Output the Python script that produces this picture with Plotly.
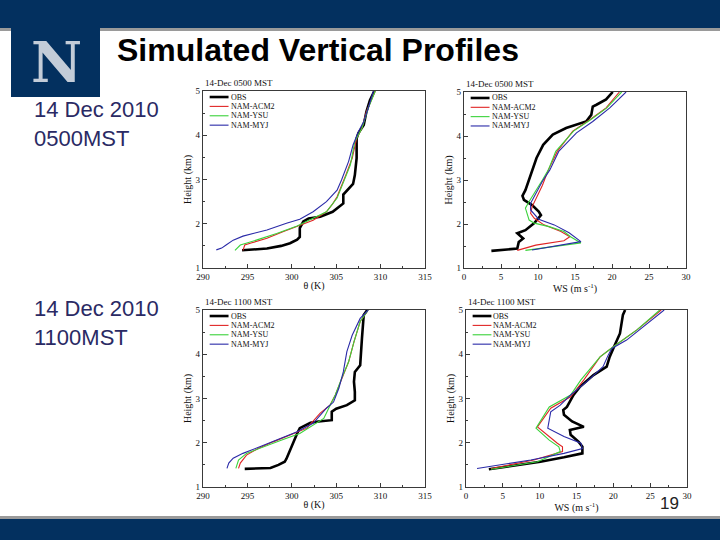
import plotly.graph_objects as go

# ---------------- data ----------------
series_names = ["OBS", "NAM-ACM2", "NAM-YSU", "NAM-MYJ"]
series_colors = ["#000000", "#e02424", "#3ad23a", "#2a2aa8"]
series_widths = [2.6, 1.1, 1.1, 1.1]

panel_titles = ["14-Dec 0500 MST", "14-Dec 0500 MST", "14-Dec 1100 MST", "14-Dec 1100 MST"]
left_labels = ["14 Dec 2010<br>0500MST", "14 Dec 2010<br>1100MST"]
theta_ticks = [290, 295, 300, 305, 310, 315]
ws_ticks = [0, 5, 10, 15, 20, 25, 30]
height_ticks = [1, 2, 3, 4, 5]

# Panel 1: potential temperature, 0500 MST
th05_obs_h = [1.40, 1.44, 1.50, 1.56, 1.64, 1.70, 1.90, 2.05, 2.12, 2.16, 2.27, 2.40, 2.46, 2.66, 2.74, 2.90, 3.10, 3.48, 3.93, 4.05, 4.23, 4.53, 4.79, 5.0]
th05_obs = [294.4, 297.2, 298.8, 299.8, 300.6, 300.9, 300.9, 301.3, 301.9, 303.2, 304.6, 305.5, 305.8, 305.8, 306.2, 306.9, 307.1, 307.3, 307.3, 307.5, 308.1, 308.4, 308.8, 309.3]
th05_acm2_h = [1.40, 1.52, 1.57, 1.67, 1.82, 1.97, 2.08, 2.27, 2.45, 2.61, 2.99, 3.11, 3.48, 3.93, 4.16, 4.53, 5.0]
th05_acm2 = [294.5, 294.7, 295.5, 297.2, 299.0, 300.9, 302.4, 303.9, 304.6, 305.1, 305.8, 306.1, 306.8, 307.3, 307.9, 308.4, 309.4]
th05_ysu_h = [1.40, 1.52, 1.63, 1.78, 1.95, 2.08, 2.27, 2.58, 2.84, 3.33, 3.86, 4.16, 4.61, 5.0]
th05_ysu = [293.6, 294.2, 296.0, 298.3, 300.6, 302.0, 303.9, 305.1, 305.6, 306.6, 307.1, 307.9, 308.6, 309.4]
th05_myj_h = [1.41, 1.45, 1.52, 1.63, 1.72, 1.86, 2.01, 2.10, 2.27, 2.50, 2.76, 2.99, 3.41, 3.78, 4.08, 4.31, 4.61, 5.0]
th05_myj = [291.5, 292.1, 292.6, 293.4, 294.5, 297.2, 299.4, 300.9, 302.4, 303.9, 305.1, 305.6, 306.4, 306.9, 307.5, 308.1, 308.6, 309.2]

# Panel 2: wind speed, 0500 MST
ws05_obs_h = [1.39, 1.44, 1.59, 1.67, 1.79, 1.86, 2.02, 2.20, 2.28, 2.43, 2.55, 2.64, 2.77, 3.00, 3.23, 3.50, 3.80, 4.03, 4.18, 4.33, 4.48, 4.67, 4.71, 4.83, 5.0]
ws05_obs = [3.7, 7.2, 7.4, 8.0, 7.2, 8.3, 9.5, 10.4, 10.1, 9.2, 8.1, 7.9, 8.3, 8.8, 9.2, 9.8, 10.7, 12.0, 13.8, 16.5, 17.2, 17.4, 17.9, 19.2, 20.1]
ws05_acm2_h = [1.40, 1.52, 1.62, 1.71, 1.83, 1.98, 2.13, 2.24, 2.39, 2.62, 2.88, 3.23, 3.65, 4.11, 4.37, 4.64, 5.0]
ws05_acm2 = [7.2, 9.7, 13.5, 14.3, 13.1, 10.8, 9.5, 9.0, 9.2, 9.9, 10.6, 11.4, 12.6, 14.7, 17.0, 19.2, 21.0]
ws05_ysu_h = [1.40, 1.47, 1.57, 1.71, 1.83, 1.94, 2.02, 2.09, 2.36, 2.51, 2.74, 3.00, 3.23, 3.65, 4.11, 4.37, 4.64, 5.0]
ws05_ysu = [8.3, 11.7, 15.8, 14.4, 13.5, 11.5, 9.5, 8.8, 8.3, 8.8, 9.7, 10.6, 11.4, 12.4, 14.8, 17.1, 19.3, 21.3]
ws05_myj_h = [1.41, 1.50, 1.60, 1.80, 1.98, 2.11, 2.32, 2.47, 2.70, 2.97, 3.23, 3.65, 4.07, 4.33, 4.64, 5.0]
ws05_myj = [9.2, 12.5, 15.8, 14.2, 12.2, 10.1, 9.0, 9.0, 9.7, 10.6, 11.6, 12.8, 15.2, 17.4, 19.7, 21.9]

# Panel 3: potential temperature, 1100 MST
th11_obs_h = [1.41, 1.43, 1.50, 1.57, 1.64, 1.84, 2.00, 2.21, 2.33, 2.45, 2.48, 2.51, 2.70, 2.77, 2.85, 2.92, 2.96, 3.15, 3.38, 3.60, 3.75, 4.36, 4.74, 4.89, 5.0]
th11_obs = [294.7, 297.6, 298.5, 299.2, 299.4, 299.8, 300.2, 300.6, 300.9, 302.1, 303.0, 304.5, 304.5, 305.0, 306.2, 306.7, 307.1, 307.1, 307.0, 307.1, 307.7, 307.9, 308.1, 308.1, 308.5]
th11_acm2_h = [1.42, 1.54, 1.72, 1.87, 2.02, 2.18, 2.33, 2.67, 2.85, 3.08, 3.45, 3.83, 4.28, 4.74, 5.0]
th11_acm2 = [294.0, 294.2, 294.9, 296.2, 297.9, 299.8, 301.7, 303.2, 304.3, 304.9, 305.6, 306.4, 307.0, 307.7, 308.6]
th11_ysu_h = [1.42, 1.61, 1.76, 1.91, 2.08, 2.21, 2.55, 2.92, 3.08, 3.45, 3.83, 4.28, 4.74, 5.0]
th11_ysu = [293.7, 294.0, 294.9, 296.8, 299.1, 300.9, 303.6, 304.5, 304.9, 305.6, 306.4, 307.0, 307.7, 308.6]
th11_myj_h = [1.42, 1.54, 1.65, 1.76, 1.91, 2.06, 2.25, 2.44, 2.78, 2.92, 3.23, 3.60, 4.06, 4.43, 4.81, 5.0]
th11_myj = [292.7, 292.9, 293.4, 294.5, 296.4, 298.3, 300.6, 302.4, 303.9, 304.7, 305.3, 305.8, 306.2, 306.8, 307.7, 308.6]

# Panel 4: wind speed, 1100 MST
ws11_obs_h = [1.40, 1.57, 1.67, 1.76, 1.91, 2.02, 2.18, 2.29, 2.36, 2.48, 2.63, 2.74, 2.81, 2.97, 3.08, 3.27, 3.53, 3.72, 3.94, 4.21, 4.47, 4.89, 5.0]
ws11_obs = [3.1, 10.1, 13.3, 15.8, 15.8, 15.3, 14.2, 14.1, 16.0, 14.4, 13.3, 13.2, 13.7, 14.2, 14.6, 15.5, 17.3, 19.1, 19.5, 20.2, 20.9, 21.3, 21.6]
ws11_acm2_h = [1.42, 1.61, 1.80, 1.91, 1.99, 2.18, 2.36, 2.78, 3.04, 3.42, 3.94, 4.17, 4.55, 5.0]
ws11_acm2 = [3.4, 9.2, 13.1, 13.1, 12.4, 11.0, 9.7, 11.5, 14.2, 16.0, 18.2, 20.0, 23.2, 26.5]
ws11_ysu_h = [1.40, 1.57, 1.80, 1.91, 2.06, 2.33, 2.81, 3.08, 3.42, 3.94, 4.17, 4.55, 5.0]
ws11_ysu = [3.4, 9.7, 12.8, 12.6, 11.3, 9.5, 11.3, 14.2, 15.6, 18.2, 20.0, 23.2, 26.3]
ws11_myj_h = [1.42, 1.61, 1.76, 1.87, 1.99, 2.14, 2.33, 2.70, 2.85, 3.08, 3.38, 3.72, 3.98, 4.13, 4.32, 5.0]
ws11_myj = [1.5, 8.8, 13.3, 15.8, 15.6, 13.3, 11.1, 11.5, 12.8, 14.2, 16.4, 18.6, 19.3, 19.8, 21.8, 26.9]

panels = [
    [(th05_obs, th05_obs_h), (th05_acm2, th05_acm2_h), (th05_ysu, th05_ysu_h), (th05_myj, th05_myj_h)],
    [(ws05_obs, ws05_obs_h), (ws05_acm2, ws05_acm2_h), (ws05_ysu, ws05_ysu_h), (ws05_myj, ws05_myj_h)],
    [(th11_obs, th11_obs_h), (th11_acm2, th11_acm2_h), (th11_ysu, th11_ysu_h), (th11_myj, th11_myj_h)],
    [(ws11_obs, ws11_obs_h), (ws11_acm2, ws11_acm2_h), (ws11_ysu, ws11_ysu_h), (ws11_myj, ws11_myj_h)],
]

# ---------------- layout helpers ----------------
W, H = 720, 540
NAVY = "#03305f"
TEXT_NAVY = "#2a2a64"
SERIF = "Liberation Serif, Times New Roman, serif"
SANS = "Liberation Sans, Arial, sans-serif"


def fx(px):
    return px / W


def fy(px):
    return 1 - px / H


boxes = [(203, 425, 91, 268), (464, 686, 92, 268), (203, 425, 310, 487), (466, 687, 310, 487)]
is_theta = [True, False, True, False]

fig = go.Figure()

for i, series in enumerate(panels):
    xa = "x" if i == 0 else f"x{i+1}"
    ya = "y" if i == 0 else f"y{i+1}"
    for k in [0, 1, 2, 3]:
        xs, hs = series[k]
        fig.add_trace(go.Scatter(
            x=xs, y=hs, mode="lines", name=series_names[k],
            line=dict(color=series_colors[k], width=series_widths[k]),
            xaxis=xa, yaxis=ya, showlegend=False, hoverinfo="skip"))

axis_line = "#3a3a3a"
layout = dict(
    template="none",
    width=W, height=H, margin=dict(l=0, r=0, t=0, b=0, pad=0, autoexpand=False),
    paper_bgcolor="white", plot_bgcolor="white", showlegend=False,
)
shapes = []
annotations = []

for i, (l, r, t, b) in enumerate(boxes):
    xkey = "xaxis" if i == 0 else f"xaxis{i+1}"
    ykey = "yaxis" if i == 0 else f"yaxis{i+1}"
    xref = "x" if i == 0 else f"x{i+1}"
    yref = "y" if i == 0 else f"y{i+1}"
    if is_theta[i]:
        xticks, xtitle = theta_ticks, "θ (K)"
    else:
        xticks, xtitle = ws_ticks, "WS (m s<sup>-1</sup>)"
    layout[xkey] = dict(
        domain=[fx(l), fx(r)], anchor=yref, range=[xticks[0], xticks[-1]],
        automargin=False,
        tickmode="array", tickvals=xticks, ticktext=[str(v) for v in xticks],
        ticks="inside", ticklen=4, tickcolor=axis_line, tickwidth=1,
        minor=dict(ticks="inside", ticklen=2, dtick=2.5, tick0=xticks[0], tickcolor=axis_line),
        showline=True, mirror=True, linecolor=axis_line, linewidth=1.2,
        showgrid=False, zeroline=False,
        tickfont=dict(family=SERIF, size=9, color="#111"),
        title=dict(text=xtitle, font=dict(family=SERIF, size=10, color="#111"), standoff=1),
    )
    layout[ykey] = dict(
        domain=[fy(b), fy(t)], anchor=xref, range=[1, 5],
        automargin=False,
        tickmode="array", tickvals=height_ticks, ticktext=[str(v) for v in height_ticks],
        ticks="inside", ticklen=4, tickcolor=axis_line, tickwidth=1,
        minor=dict(ticks="inside", ticklen=2, dtick=0.5, tick0=1, tickcolor=axis_line),
        showline=True, mirror=True, linecolor=axis_line, linewidth=1.2,
        showgrid=False, zeroline=False,
        tickfont=dict(family=SERIF, size=9, color="#111"),
        title=dict(text="Height (km)", font=dict(family=SERIF, size=10, color="#111"), standoff=2),
    )
    annotations.append(dict(
        text=panel_titles[i], xref=f"{xref} domain", yref=f"{yref} domain",
        x=0, y=1.005, xanchor="left", yanchor="bottom", showarrow=False,
        font=dict(family=SERIF, size=9, color="#111")))
    for k, name in enumerate(series_names):
        yy = 0.966 - k * 0.053
        shapes.append(dict(type="line", xref=f"{xref} domain", yref=f"{yref} domain",
                           x0=0.03, x1=0.115, y0=yy, y1=yy,
                           line=dict(color=series_colors[k], width=series_widths[k])))
        annotations.append(dict(
            text=name, xref=f"{xref} domain", yref=f"{yref} domain",
            x=0.115, y=yy, xanchor="left", yanchor="middle", showarrow=False,
            font=dict(family=SERIF, size=8, color="#111")))

shapes += [
    dict(type="rect", xref="paper", yref="paper", x0=-0.01, x1=1.01, y0=fy(28), y1=1.01,
         fillcolor=NAVY, line=dict(width=0), layer="above"),
    dict(type="rect", xref="paper", yref="paper", x0=-0.01, x1=1.01, y0=fy(31), y1=fy(28),
         fillcolor="#9a9a9a", line=dict(width=0), layer="above"),
    dict(type="rect", xref="paper", yref="paper", x0=-0.01, x1=1.01, y0=-0.01, y1=fy(519),
         fillcolor=NAVY, line=dict(width=0), layer="above"),
    dict(type="rect", xref="paper", yref="paper", x0=-0.01, x1=1.01, y0=fy(519), y1=fy(516),
         fillcolor="#9a9a9a", line=dict(width=0), layer="above"),
    dict(type="rect", xref="paper", yref="paper", x0=fx(11), x1=fx(100), y0=fy(97), y1=fy(20),
         fillcolor=NAVY, line=dict(width=0), layer="above"),
]

annotations += [
    dict(text="<b>N</b>", xref="paper", yref="paper", x=fx(56), y=fy(62),
         xanchor="center", yanchor="middle", showarrow=False,
         font=dict(family="DejaVu Serif, serif", size=56, color="#c3ccd8")),
    dict(text="<b>Simulated Vertical Profiles</b>", xref="paper", yref="paper",
         x=fx(115), y=fy(50), xanchor="left", yanchor="middle", showarrow=False,
         font=dict(family=SANS, size=32, color="#000")),
    dict(text=left_labels[0], xref="paper", yref="paper", x=fx(32), y=fy(124),
         xanchor="left", yanchor="middle", align="left", showarrow=False,
         font=dict(family=SANS, size=22, color=TEXT_NAVY)),
    dict(text=left_labels[1], xref="paper", yref="paper", x=fx(32), y=fy(323),
         xanchor="left", yanchor="middle", align="left", showarrow=False,
         font=dict(family=SANS, size=22, color=TEXT_NAVY)),
    dict(text="19", xref="paper", yref="paper", x=fx(669), y=fy(503),
         xanchor="center", yanchor="middle", showarrow=False,
         font=dict(family=SANS, size=17, color="#222")),
]

layout["shapes"] = shapes
layout["annotations"] = annotations
fig.update_layout(**layout)

pin_script = (
    "document.documentElement.style.margin='0';"
    "document.body.style.margin='0';document.body.style.overflow='hidden';"
    "var gd=document.getElementById('{plot_id}');"
    "gd.style.position='absolute';gd.style.left='0px';gd.style.top='0px';"
)
fig.write_html("out.html", config={"displayModeBar": False}, post_script=pin_script)
